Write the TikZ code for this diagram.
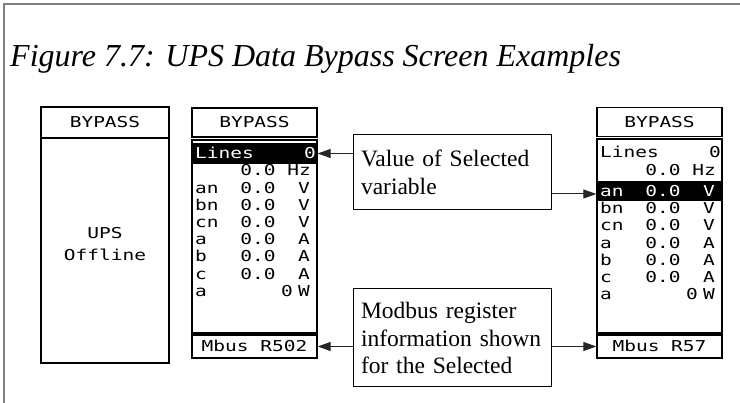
\documentclass[tikz,border=0pt]{standalone}
\usepackage{fontspec}
\setmainfont{Liberation Serif}
\newfontfamily\lcdfont[FakeStretch=1.3]{DejaVu Sans Mono}
\usetikzlibrary{arrows.meta}
\begin{document}
\begin{tikzpicture}[x=1pt,y=-1pt,
  lcd/.style={font=\lcdfont\fontsize{15}{17}\selectfont, inner sep=0pt, text height=10.9pt, text depth=0pt, text=black},
  lcdbox/.style={draw=black, line width=1.3pt, inner sep=0pt},
  selbar/.style={fill=black, draw=black, line width=1.3pt, inner sep=0pt, minimum width=125pt},
  callout/.style={draw=black, line width=1pt, inner sep=0pt, align=left,
     font=\fontsize{23.5}{27.5}\selectfont, minimum width=198pt},
  ptr/.style={-{Triangle[length=13pt,width=9pt]}, line width=1pt, draw=black!85}
]
\useasboundingbox (0,0) rectangle (740,403);
\fill[white] (0,0) rectangle (740,403);
% outer frame
\draw[gray, line width=2pt] (4,403) -- (4,4) -- (740,4);
% title
\node[anchor=base west, inner sep=0pt, font=\itshape\fontsize{32}{38}\selectfont] (title) at (10,67) {Figure 7.7: UPS Data Bypass Screen Examples};

% ---------- panel 1 ----------
\node[lcdbox, line width=2pt, minimum width=128pt, minimum height=31pt] (p1head) at (105,122.5) {};
\node[lcdbox, line width=2pt, minimum width=128pt, minimum height=225pt] (p1body) at (105,250.5) {};
\node[lcd] (p1t) at (p1head.center) {BYPASS};
\node[lcd] (p1a) at (105,233) {UPS};
\node[lcd] (p1b) at (105,255) {Offline};

% ---------- panel 2 ----------
\node[lcdbox, minimum width=125pt, minimum height=29pt] (p2head) at (254.5,122.5) {};
\node[lcd] (p2t) at (p2head.center) {BYPASS};
\node[lcdbox, minimum width=125pt, minimum height=193pt] (p2body) at (254.5,236.5) {};
\node[lcdbox, minimum width=125pt, minimum height=23pt] (p2mb) at (254.5,346.5) {};
\node[lcd] (p2mbt) at (p2mb.center) {Mbus R502};
\node[selbar, minimum height=19pt] (p2sel) at (254.5,153.5) {};
\node[lcd, text=white, anchor=west] (p2lines) at (195,153.5) {Lines};
\node[lcd, text=white] (p2lz) at (310,153.5) {0};
\node[lcd] (p2hz1) at (258,170.5) {0.0};
\node[lcd] (p2hz2) at (299,170.5) {Hz};
\foreach \lab/\val/\unit/\yy [count=\k] in {an/0.0/V/187.7, bn/0.0/V/204.9, cn/0.0/V/222.1, a/0.0/A/239.3, b/0.0/A/256.5, c/0.0/A/273.7}{
  \node[lcd, anchor=west] (p2l\k) at (195,\yy) {\lab};
  \node[lcd] (p2v\k) at (258,\yy) {\val};
  \node[lcd] (p2u\k) at (304,\yy) {\unit};
}
\node[lcd, anchor=west] (p2wl) at (195,290.9) {a};
\node[lcd] (p2wv) at (287,290.9) {0};
\node[lcd] (p2wu) at (304,290.9) {W};

% ---------- panel 3 ----------
\node[lcdbox, minimum width=125pt, minimum height=29pt] (p3head) at (659.5,122) {};
\node[lcd] (p3t) at (p3head.center) {BYPASS};
\node[lcdbox, minimum width=125pt, minimum height=194pt] (p3body) at (659.5,236) {};
\node[lcdbox, minimum width=125pt, minimum height=23pt] (p3mb) at (659.5,346.5) {};
\node[lcd] (p3mbt) at (p3mb.center) {Mbus R57};
\node[selbar, minimum height=18pt] (p3sel) at (659.5,191) {};
\node[lcd, anchor=west] (p3lines) at (600,152) {Lines};
\node[lcd] (p3lz) at (715,152) {0};
\node[lcd] (p3hz1) at (663,170) {0.0};
\node[lcd] (p3hz2) at (704,170) {Hz};
\node[lcd, text=white, anchor=west] (p3l1) at (600,191) {an};
\node[lcd, text=white] (p3v1) at (663,191) {0.0};
\node[lcd, text=white] (p3u1) at (709,191) {V};
\foreach \lab/\val/\unit/\yy [count=\k from 2] in {bn/0.0/V/208.2, cn/0.0/V/225.4, a/0.0/A/242.6, b/0.0/A/259.8, c/0.0/A/277}{
  \node[lcd, anchor=west] (p3l\k) at (600,\yy) {\lab};
  \node[lcd] (p3v\k) at (663,\yy) {\val};
  \node[lcd] (p3u\k) at (709,\yy) {\unit};
}
\node[lcd, anchor=west] (p3wl) at (600,294.2) {a};
\node[lcd] (p3wv) at (692,294.2) {0};
\node[lcd] (p3wu) at (709,294.2) {W};

% ---------- callouts ----------
\node[callout, minimum height=75pt, text width=182pt] (b1) at (452,172.5) {Value of Selected\\variable};
\node[callout, minimum height=98pt, text width=182pt] (b2) at (452,338) {Modbus register\\information shown\\for the Selected};

\draw[ptr] (b1.west |- p2sel.east) -- (p2sel.east);
\draw[ptr] ([yshift=-3pt]b1.east |- p3sel.west) -- ([yshift=-3pt]p3sel.west);
\draw[ptr] (b2.west |- p2mb.east) -- (p2mb.east);
\draw[ptr] (b2.east |- p3mb.west) -- (p3mb.west);
\end{tikzpicture}
\end{document}
